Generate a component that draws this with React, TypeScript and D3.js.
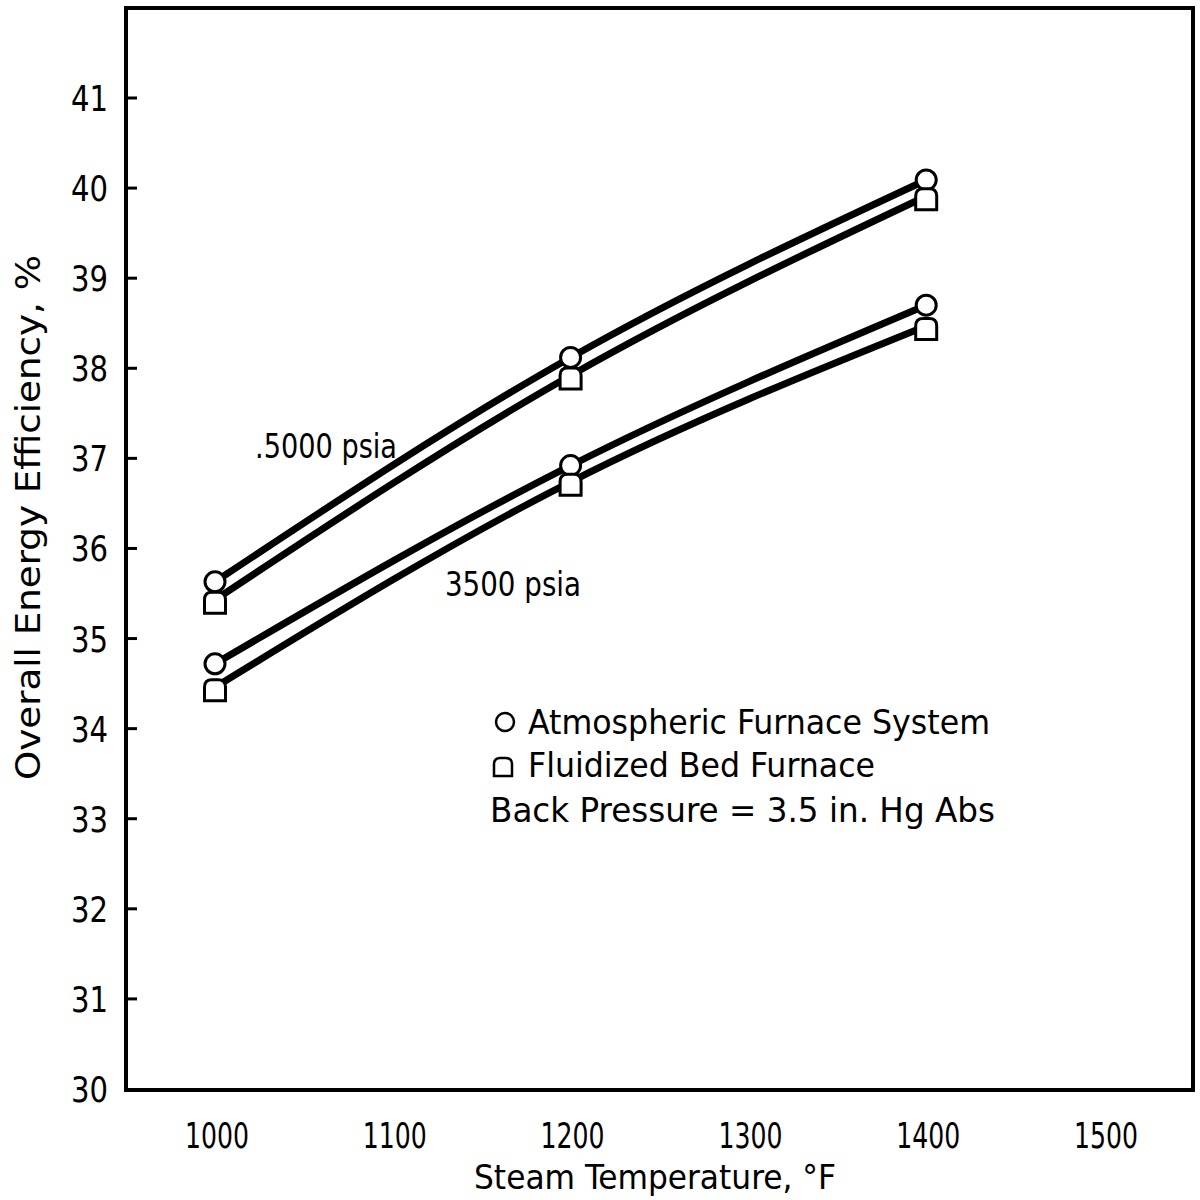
import * as d3 from "d3";
import React from "react";

const width = 1200;
const height = 1200;
const margin = { top: 8, right: 7, bottom: 110, left: 126 };

const temps = [1000, 1200, 1400];
const atm5000 = [35.63, 38.12, 40.09];
const fbf5000 = [35.43, 37.92, 39.91];
const atm3500 = [34.72, 36.92, 38.7];
const fbf3500 = [34.46, 36.74, 38.47];

const xTicks = [1000, 1100, 1200, 1300, 1400, 1500];
const yTicks = [30, 31, 32, 33, 34, 35, 36, 37, 38, 39, 40, 41];

const legendLines = [
  "Atmospheric Furnace  System",
  "Fluidized Bed Furnace",
  "Back Pressure = 3.5 in. Hg Abs",
];

const font = "'DejaVu Sans', sans-serif";

const series = [
  { values: atm5000, marker: "circle" },
  { values: fbf5000, marker: "square" },
  { values: atm3500, marker: "circle" },
  { values: fbf3500, marker: "square" },
];

// square-ish marker with a rounded top, like the scanned symbol
const squarePath = (cx: number, cy: number, s: number) => {
  const h = s / 2;
  const r = s * 0.35;
  return `M${cx - h},${cy + h} L${cx - h},${cy - h + r} Q${cx - h},${cy - h} ${cx - h + r},${cy - h} L${cx + h - r},${cy - h} Q${cx + h},${cy - h} ${cx + h},${cy - h + r} L${cx + h},${cy + h} Z`;
};

const txt = {
  fontFamily: font,
  fontStretch: "condensed" as const,
  fill: "#000",
};

const App = () => {
  const x = d3
    .scaleLinear()
    .domain([1000, 1500])
    .range([215, 1104]);
  const y = d3
    .scaleLinear()
    .domain([30, 41])
    .range([1089, 98]);

  const line = d3
    .line<number>()
    .x((d, i) => x(temps[i]))
    .y((d) => y(d))
    .curve(d3.curveMonotoneX);

  const left = margin.left;
  const right = width - margin.right;
  const top = margin.top;
  const bottom = height - margin.bottom;

  return (
    <svg width={width} height={height} style={{ position: "absolute", left: 0, top: 0, background: "#fff" }}>
      <rect x={0} y={0} width={width} height={height} fill="#fff" />
      {/* frame */}
      <rect
        x={left}
        y={top}
        width={right - left}
        height={bottom - top}
        fill="none"
        stroke="#000"
        strokeWidth={4}
      />
      {/* y ticks */}
      {yTicks.map((t) => (
        <g key={t}>
          {t > 30 && (
            <line x1={left} x2={left + 11} y1={y(t)} y2={y(t)} stroke="#000" strokeWidth={3} />
          )}
          <text
            x={108}
            y={y(t)}
            dy="0.36em"
            textAnchor="end"
            fontSize={36}
            textLength={37}
            lengthAdjust="spacingAndGlyphs"
            {...txt}
          >
            {t}
          </text>
        </g>
      ))}
      {/* x tick labels */}
      {xTicks.map((t) => (
        <text
          key={t}
          x={x(t) + 2}
          y={1148}
          textAnchor="middle"
          fontSize={36}
          textLength={64}
          lengthAdjust="spacingAndGlyphs"
          {...txt}
        >
          {t}
        </text>
      ))}
      <text
        x={474}
        y={1189}
        fontSize={33}
        textLength={362}
        lengthAdjust="spacingAndGlyphs"
        {...txt}
      >
        Steam Temperature,  °F
      </text>
      <text
        transform={`translate(40, 780) rotate(-90)`}
        fontSize={34}
        textLength={525}
        lengthAdjust="spacingAndGlyphs"
        {...txt}
      >
        Overall Energy Efficiency, %
      </text>

      {/* curves */}
      {series.map((s, i) => (
        <path
          key={i}
          d={line(s.values) || ""}
          fill="none"
          stroke="#000"
          strokeWidth={7}
        />
      ))}
      {/* markers */}
      {series.map((s, i) =>
        s.values.map((v, j) =>
          s.marker === "circle" ? (
            <circle
              key={`${i}-${j}`}
              cx={x(temps[j])}
              cy={y(v)}
              r={10}
              fill="#fff"
              stroke="#000"
              strokeWidth={3}
            />
          ) : (
            <path
              key={`${i}-${j}`}
              d={squarePath(x(temps[j]), y(v) + 3, 21)}
              fill="#fff"
              stroke="#000"
              strokeWidth={3}
            />
          )
        )
      )}

      {/* series labels */}
      <text x={255} y={458} fontSize={33} textLength={142} lengthAdjust="spacingAndGlyphs" {...txt}>
        .5000 psia
      </text>
      <text x={445} y={596} fontSize={33} textLength={136} lengthAdjust="spacingAndGlyphs" {...txt}>
        3500 psia
      </text>

      {/* legend */}
      <circle cx={505} cy={722} r={9} fill="none" stroke="#000" strokeWidth={2.5} />
      <path d={squarePath(503, 767, 18)} fill="none" stroke="#000" strokeWidth={2.5} />
      <text x={528} y={734} fontSize={34} textLength={462} lengthAdjust="spacingAndGlyphs" {...txt}>
        {legendLines[0]}
      </text>
      <text x={528} y={777} fontSize={34} textLength={347} lengthAdjust="spacingAndGlyphs" {...txt}>
        {legendLines[1]}
      </text>
      <text x={490} y={822} fontSize={34} textLength={505} lengthAdjust="spacingAndGlyphs" {...txt}>
        {legendLines[2]}
      </text>
    </svg>
  );
};

export default App;
